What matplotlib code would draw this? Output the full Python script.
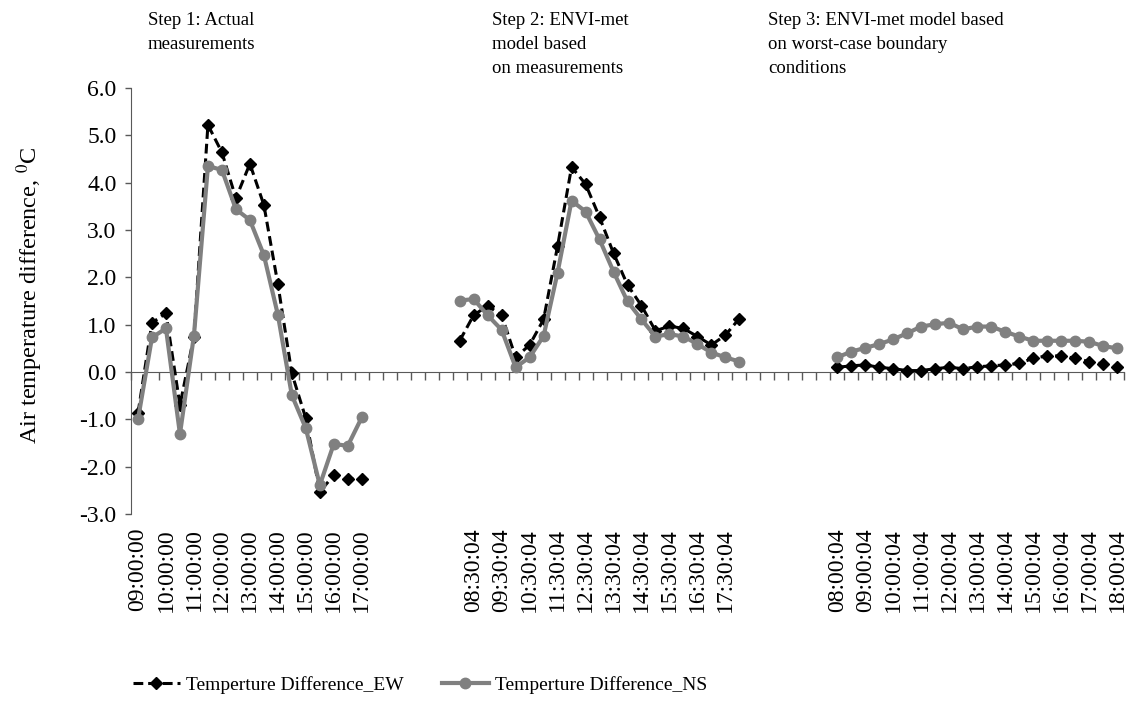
import numpy as np
import matplotlib.pyplot as plt

plt.rcParams['font.family'] = ['Liberation Serif', 'DejaVu Serif']
plt.rcParams['mathtext.fontset'] = 'stix'

# category labels (30 min steps), three blocks separated by empty categories
step1_times = ['09:00:00', '09:30:00', '10:00:00', '10:30:00', '11:00:00', '11:30:00',
               '12:00:00', '12:30:00', '13:00:00', '13:30:00', '14:00:00', '14:30:00',
               '15:00:00', '15:30:00', '16:00:00', '16:30:00', '17:00:00']
step2_times = ['08:00:04', '08:30:04', '09:00:04', '09:30:04', '10:00:04', '10:30:04',
               '11:00:04', '11:30:04', '12:00:04', '12:30:04', '13:00:04', '13:30:04',
               '14:00:04', '14:30:04', '15:00:04', '15:30:04', '16:00:04', '16:30:04',
               '17:00:04', '17:30:04', '18:00:04']
step3_times = ['08:00:04', '08:30:04', '09:00:04', '09:30:04', '10:00:04', '10:30:04',
               '11:00:04', '11:30:04', '12:00:04', '12:30:04', '13:00:04', '13:30:04',
               '14:00:04', '14:30:04', '15:00:04', '15:30:04', '16:00:04', '16:30:04',
               '17:00:04', '17:30:04', '18:00:04']
gap1 = 6
gap2 = 6

# Step 1: actual measurements
ew_step1 = [-0.87, 1.04, 1.24, -0.70, 0.75, 5.22, 4.64, 3.67, 4.40, 3.53, 1.86, -0.03,
            -0.98, -2.53, -2.18, -2.27, -2.25]
ns_step1 = [-1.00, 0.73, 0.92, -1.31, 0.77, 4.35, 4.27, 3.44, 3.21, 2.47, 1.21, -0.49,
            -1.19, -2.39, -1.52, -1.56, -0.96]
# Step 2: ENVI-met based on measurements
ew_step2 = [0.66, 1.20, 1.40, 1.20, 0.31, 0.57, 1.11, 2.66, 4.33, 3.97, 3.27, 2.51,
            1.84, 1.40, 0.87, 0.97, 0.92, 0.75, 0.57, 0.78, 1.13]
ns_step2 = [1.51, 1.54, 1.20, 0.89, 0.10, 0.31, 0.76, 2.10, 3.62, 3.39, 2.80, 2.12,
            1.49, 1.11, 0.75, 0.80, 0.75, 0.59, 0.41, 0.31, 0.22]
# Step 3: ENVI-met worst-case boundary conditions
ew_step3 = [0.10, 0.13, 0.15, 0.10, 0.07, 0.03, 0.03, 0.07, 0.10, 0.07, 0.11, 0.13,
            0.15, 0.18, 0.29, 0.34, 0.34, 0.29, 0.22, 0.17, 0.10]
ns_step3 = [0.31, 0.43, 0.51, 0.59, 0.69, 0.82, 0.96, 1.01, 1.04, 0.90, 0.96, 0.96,
            0.85, 0.75, 0.66, 0.66, 0.66, 0.66, 0.64, 0.55, 0.50]

categories = step1_times + [''] * gap1 + step2_times + [''] * gap2 + step3_times
blank1 = [np.nan] * gap1
blank2 = [np.nan] * gap2
ew = np.array(ew_step1 + blank1 + ew_step2 + blank2 + ew_step3, dtype=float)
ns = np.array(ns_step1 + blank1 + ns_step2 + blank2 + ns_step3, dtype=float)
x = np.arange(len(categories))

fig = plt.figure(figsize=(11.32, 7.06), dpi=100)
ax = fig.add_axes([131 / 1132, 1 - 514 / 706, 993 / 1132, 426 / 706])

axis_col = '#595959'

ax.plot(x, ew, color='black', lw=2.2, linestyle=(0, (3.2, 1.6)), marker='D',
        markersize=6, label='Temperture Difference_EW', zorder=3)
ax.plot(x, ns, color='#808080', lw=3, marker='o', markersize=7.5,
        label='Temperture Difference_NS', zorder=4)

ax.set_xlim(-0.5, len(categories) - 0.5)
ax.set_ylim(-3, 6)
ax.set_yticks(np.arange(-3, 6.1, 1))
ax.set_yticklabels(['%.1f' % v for v in np.arange(-3, 6.1, 1)])

# labels shown on every second category, at the bottom of the plot area
ax.set_xticks(x)
ax.set_xticklabels([c if i % 2 == 0 else '' for i, c in enumerate(categories)],
                   rotation=90, va='top')
ax.tick_params(axis='x', length=0, pad=10, labelsize=17)
ax.tick_params(axis='y', direction='out', length=4.5, width=1, color=axis_col,
               pad=6, labelsize=17)

for s in ['top', 'right', 'bottom']:
    ax.spines[s].set_visible(False)
ax.spines['left'].set_color(axis_col)

# horizontal axis line crosses at 0, tick marks between categories
zero_axis = ax.secondary_xaxis(3 / 9)
zero_axis.set_xticks(np.arange(-0.5, len(categories), 1))
zero_axis.set_xticklabels([])
zero_axis.tick_params(direction='out', length=6, width=1, color=axis_col)
zero_axis.spines['bottom'].set_color(axis_col)

fig.text(30 / 1132, 1 - 295 / 706, r'Air temperature difference, $^{0}$C',
         rotation=90, ha='center', va='center', fontsize=17.5)

fig.text(148 / 1132, 1 - 12 / 706, 'Step 1: Actual\nmeasurements',
         ha='left', va='top', fontsize=13.5, linespacing=1.55)
fig.text(492 / 1132, 1 - 12 / 706, 'Step 2: ENVI-met\nmodel based\non measurements',
         ha='left', va='top', fontsize=13.5, linespacing=1.55)
fig.text(768 / 1132, 1 - 12 / 706,
         'Step 3: ENVI-met model based\non worst-case boundary\nconditions',
         ha='left', va='top', fontsize=13.5, linespacing=1.55)

fig.legend(loc='center', bbox_to_anchor=(420 / 1132, 1 - 685 / 706), ncol=2,
           frameon=False, fontsize=14, handlelength=2.4, handletextpad=0.3,
           columnspacing=2.0)

fig.savefig('out.png', dpi=100)
